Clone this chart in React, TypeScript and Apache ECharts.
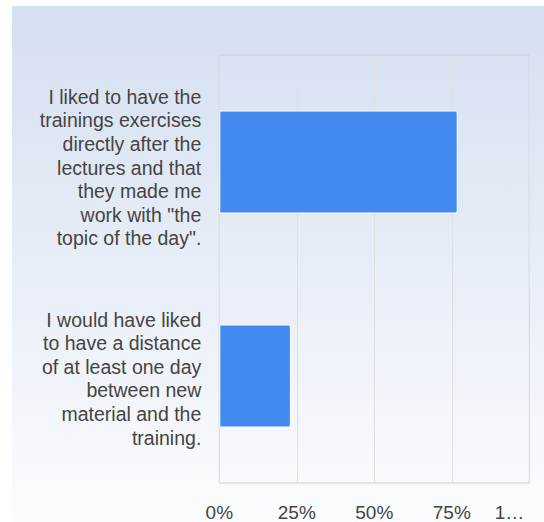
import React, { useEffect, useRef } from "react";
import * as echarts from "echarts";

const categories: string[] = [
  'I liked to have the\ntrainings exercises\ndirectly after the\nlectures and that\nthey made me\nwork with "the\ntopic of the day".',
  "I would have liked\nto have a distance\nof at least one day\nbetween new\nmaterial and the\ntraining.",
];
const percentValues: number[] = [76.9, 23.1];
const tickValues: number[] = [0, 25, 50, 75, 100];
const tickLabels: string[] = ["0%", "25%", "50%", "75%", "1…"];

export default function App() {
  const ref = useRef<HTMLDivElement>(null);
  useEffect(() => {
    if (!ref.current) return;
    const chart = echarts.init(ref.current, null, { renderer: "svg" });
    const font = "Arial, 'Liberation Sans', sans-serif";
    chart.setOption({
      animation: false,
      backgroundColor: new echarts.graphic.LinearGradient(0, 0, 0, 1, [
        { offset: 0, color: "#d4dff0" },
        { offset: 1, color: "#fbfcfe" },
      ]),
      grid: {
        left: 207.3,
        top: 49,
        right: 14.7,
        bottom: 39,
        show: true,
        borderColor: "#cccccc",
        borderWidth: 1,
        backgroundColor: "transparent",
        containLabel: false,
      },
      xAxis: {
        type: "value",
        min: 0,
        max: 100,
        interval: 25,
        axisLine: { show: false },
        axisTick: { show: false },
        splitLine: { show: true, lineStyle: { color: "#e0e0e0", width: 1 } },
        axisLabel: {
          margin: 20,
          color: "#444",
          fontSize: 19,
          fontFamily: font,
          alignMaxLabel: "right",
          formatter: (v: number) => {
            const i = tickValues.indexOf(v);
            const t = i >= 0 ? tickLabels[i] : "";
            return v === 100 ? "{last|" + t + "}" : t;
          },
          rich: {
            last: { fontSize: 19, fontFamily: font, color: "#444", padding: [0, 5, 0, 0] },
          },
        },
      },
      yAxis: {
        type: "category",
        data: categories,
        inverse: true,
        axisLine: { show: false },
        axisTick: { show: false },
        splitLine: { show: false },
        axisLabel: {
          margin: 18,
          color: "#444",
          fontSize: 19.5,
          lineHeight: 23.6,
          fontFamily: font,
          align: "right",
          formatter: (v: string, idx: number) =>
            (idx === 0 ? "{s0| }\n" : "{s1| }\n") + v,
          rich: {
            s0: { fontSize: 4, lineHeight: 11 },
            s1: { fontSize: 4, lineHeight: 5 },
          },
        },
      },
      series: [
        {
          type: "bar",
          data: percentValues,
          barWidth: 103,
          itemStyle: {
            color: "#428af0",
            borderColor: "#ffffff",
            borderWidth: 1,
            borderRadius: [0, 2, 2, 0],
          },
        },
      ],
    });
    return () => chart.dispose();
  }, []);
  return (
    <div
      ref={ref}
      style={{ position: "absolute", left: 12, top: 6, width: 532, height: 516 }}
    />
  );
}
